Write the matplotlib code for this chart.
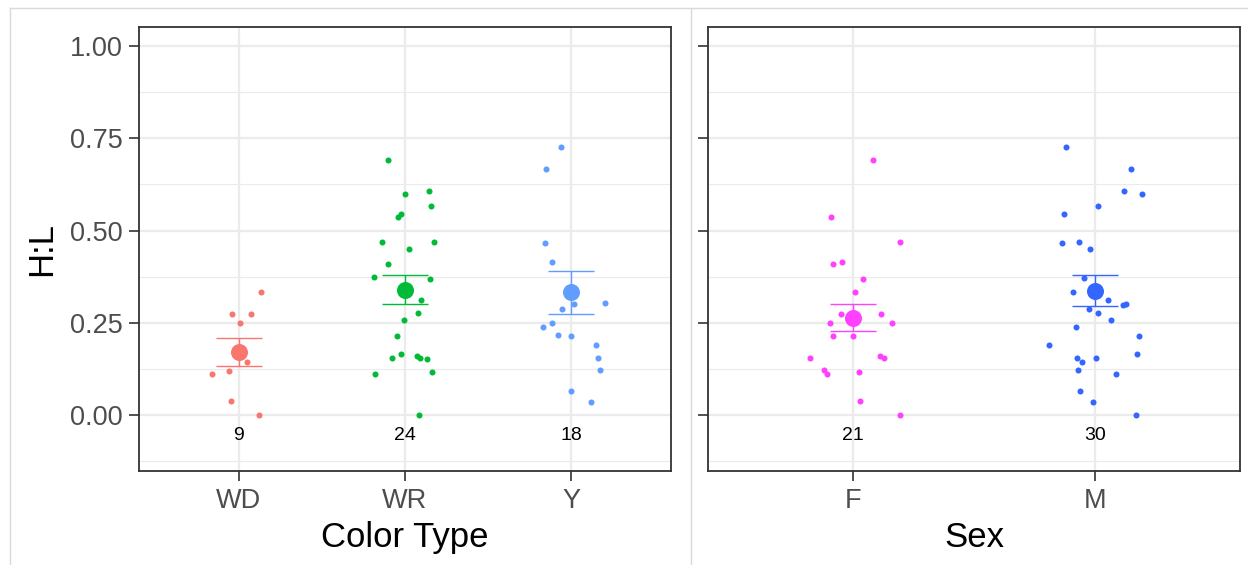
import matplotlib.pyplot as plt
from matplotlib.lines import Line2D

plt.rcParams['font.family'] = ['Liberation Sans', 'DejaVu Sans']

# ---- data ----
color_types = ['WD', 'WR', 'Y']
color_n = [9, 24, 18]
wd_vals = [0.333, 0.273, 0.273, 0.250, 0.143, 0.119, 0.110, 0.038, 0.0]
wd_jit = [0.133, -0.038, 0.072, 0.006, 0.050, -0.058, -0.158, -0.044, 0.122]
wr_vals = [0.691, 0.600, 0.608, 0.566, 0.546, 0.537, 0.470, 0.470, 0.450, 0.408,
           0.373, 0.369, 0.312, 0.276, 0.257, 0.215, 0.166, 0.154, 0.160, 0.154,
           0.153, 0.110, 0.116, 0.0]
wr_jit = [-0.101, -0.002, 0.145, 0.155, -0.024, -0.042, -0.139, 0.173, 0.026, -0.101,
          -0.187, 0.152, 0.096, 0.078, -0.004, -0.046, -0.022, -0.080, 0.070, 0.090,
          0.131, -0.179, 0.164, 0.084]
y_vals = [0.726, 0.666, 0.465, 0.416, 0.300, 0.303, 0.287, 0.249, 0.239, 0.216,
          0.213, 0.190, 0.155, 0.122, 0.066, 0.036]
y_jit = [-0.060, -0.152, -0.158, -0.113, 0.016, 0.201, -0.058, -0.113, -0.169, -0.078,
         -0.002, 0.146, 0.161, 0.175, -0.002, 0.120]
color_mean = [0.172, 0.339, 0.333]
color_lo = [0.133, 0.301, 0.275]
color_hi = [0.210, 0.379, 0.391]

sexes = ['F', 'M']
sex_n = [21, 30]
f_vals = [0.691, 0.536, 0.470, 0.408, 0.416, 0.369, 0.333, 0.273, 0.273, 0.249,
          0.249, 0.213, 0.215, 0.154, 0.160, 0.155, 0.122, 0.110, 0.116, 0.038, 0.0]
f_jit = [0.081, -0.091, 0.193, -0.085, -0.047, 0.040, 0.008, -0.048, 0.114, -0.096,
         0.159, -0.084, 0.0, -0.177, 0.111, 0.128, -0.121, -0.107, 0.025, 0.029, 0.196]
m_vals = [0.726, 0.666, 0.608, 0.599, 0.566, 0.545, 0.466, 0.470, 0.450, 0.372,
          0.333, 0.312, 0.298, 0.302, 0.287, 0.276, 0.257, 0.239, 0.215, 0.190,
          0.166, 0.154, 0.143, 0.154, 0.121, 0.110, 0.066, 0.036, 0.0]
m_jit = [-0.121, 0.151, 0.121, 0.196, 0.012, -0.129, -0.136, -0.066, -0.022, -0.045,
         -0.089, 0.053, 0.115, 0.128, -0.023, 0.011, 0.065, -0.078, 0.184, -0.191,
         0.176, -0.073, -0.055, 0.003, -0.069, 0.088, -0.063, -0.009, 0.170]
sex_mean = [0.264, 0.336]
sex_lo = [0.227, 0.295]
sex_hi = [0.302, 0.379]

color_cols = ['#F8766D', '#00BA38', '#619CFF']
sex_cols = ['#FF40FF', '#3366FF']

fig = plt.figure(figsize=(12.48, 5.65), dpi=100)
ax1 = fig.add_axes([139 / 1248, 94 / 565, 532 / 1248, 444 / 565])
ax2 = fig.add_axes([708 / 1248, 94 / 565, 532 / 1248, 444 / 565])


def draw_panel(ax, cats, groups, jitters, means, los, his, ns, cols, xlabel):
    xs = range(1, len(cats) + 1)
    for x, vals, jit, c in zip(xs, groups, jitters, cols):
        ax.scatter([x + j for j in jit], vals, s=19, color=c, linewidths=0, zorder=3)
    for x, m, lo, hi, c, n in zip(xs, means, los, his, cols, ns):
        ax.errorbar(x, m, yerr=[[m - lo], [hi - m]], color=c, capsize=16.5,
                    elinewidth=1.0, capthick=1.0, zorder=4)
        ax.scatter([x], [m], s=150, color=c, linewidths=0, zorder=5)
        ax.text(x, -0.057, str(n), ha='center', va='center', fontsize=14, color='black')
    ax.set_xlim(0.4, len(cats) + 0.6)
    ax.set_ylim(-0.152, 1.052)
    ax.set_xticks(list(xs))
    ax.set_xticklabels(cats)
    ax.set_yticks([0, 0.25, 0.5, 0.75, 1.0])
    ax.set_yticks([-0.125, 0.125, 0.375, 0.625, 0.875], minor=True)
    ax.set_xlabel(xlabel, fontsize=25, color='black', labelpad=5)
    ax.grid(True, which='major', color='#EBEBEB', linewidth=1.6, zorder=0)
    ax.grid(True, which='minor', axis='y', color='#EBEBEB', linewidth=0.8, zorder=0)
    ax.set_axisbelow(True)
    ax.tick_params(axis='both', which='major', length=7, width=1.2, color='#333333',
                   labelsize=19.5, labelcolor='#4D4D4D', pad=5)
    ax.tick_params(axis='y', which='minor', length=0)
    for sp in ax.spines.values():
        sp.set_color('#333333')
        sp.set_linewidth(1.3)


draw_panel(ax1, color_types, [wd_vals, wr_vals, y_vals], [wd_jit, wr_jit, y_jit],
           color_mean, color_lo, color_hi, color_n, color_cols, 'Color Type')
draw_panel(ax2, sexes, [f_vals, m_vals], [f_jit, m_jit],
           sex_mean, sex_lo, sex_hi, sex_n, sex_cols, 'Sex')
ax1.set_yticklabels(['0.00', '0.25', '0.50', '0.75', '1.00'])
ax1.set_ylabel('H:L', fontsize=25, color='black', labelpad=8)
ax2.set_yticklabels([])

# light frame around the two plots
frame = dict(color='#D9D9D9', linewidth=1.0, transform=fig.transFigure)
fig.add_artist(Line2D([10 / 1248, 1.0], [1 - 8 / 565, 1 - 8 / 565], **frame))
fig.add_artist(Line2D([10 / 1248, 10 / 1248], [0, 1 - 8 / 565], **frame))
fig.add_artist(Line2D([691 / 1248, 691 / 1248], [0, 1 - 8 / 565], **frame))

fig.savefig('out.png', dpi=100)
